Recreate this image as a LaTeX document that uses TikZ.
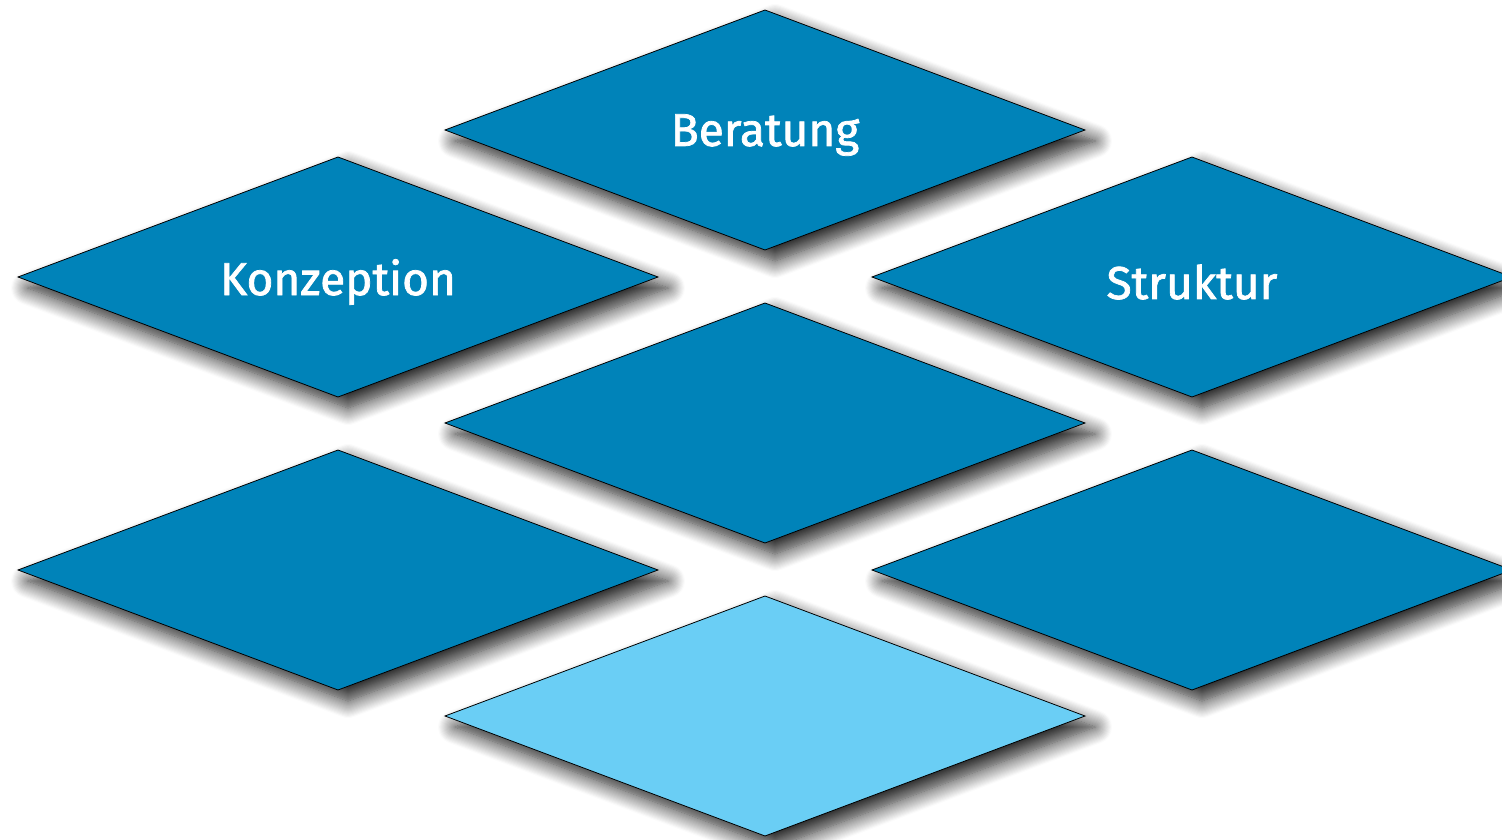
\documentclass[tikz,border=0pt]{standalone}
\usepackage{fontspec}
\setmainfont{Fira Sans}
\newfontfamily\lblfont[FakeBold=1.6]{Fira Sans}
\usetikzlibrary{shadows.blur}
\definecolor{dblue}{RGB}{0,131,185}
\definecolor{lblue}{RGB}{106,206,245}
\tikzset{
  tile/.style={fill=dblue, draw=black, line width=0.8pt,
    blur shadow={shadow xshift=10pt, shadow yshift=-11pt, shadow blur radius=17pt, shadow blur steps=16, shadow opacity=90}},
  lighttile/.style={tile, fill=lblue},
  lbl/.style={text=white, font=\lblfont\fontsize{46}{50}\selectfont, inner sep=0pt}
}
\begin{document}
\begin{tikzpicture}[x=1pt,y=-1pt]
\useasboundingbox (0,0) rectangle (1502,840);
\clip (0,0) rectangle (1502,840);
\newcommand{\tileat}[3]{%
  \path[#1] (#2-320,#3) -- (#2,#3-120) -- (#2+320,#3) -- (#2,#3+120) -- cycle;}
\tileat{tile}{765}{130}
\tileat{tile}{338}{277}
\tileat{tile}{1192}{277}
\tileat{tile}{765}{423}
\tileat{tile}{338}{570}
\tileat{tile}{1192}{570}
\tileat{lighttile}{765}{716}
\node[lbl] (beratung) at (765,135) {Beratung};
\node[lbl] (konzeption) at (338,282) {Konzeption};
\node[lbl] (struktur) at (1192,282) {Struktur};
\end{tikzpicture}
\end{document}
